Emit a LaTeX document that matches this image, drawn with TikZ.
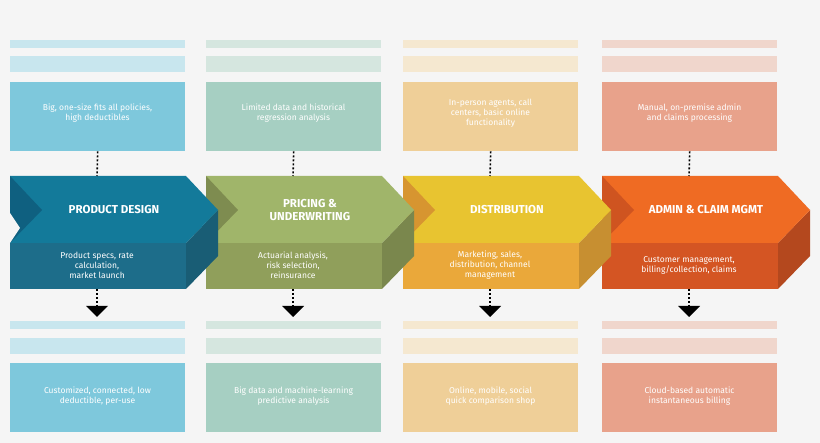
\documentclass[tikz,border=0pt]{standalone}
\usepackage{fontspec}
\setmainfont{Fira Sans}
\begin{document}
\begin{tikzpicture}[x=1pt,y=-1pt,
  txt/.style={text=white,align=center,font=\fontsize{8.5}{10}\selectfont,inner sep=0},
  ttl/.style={text=white,align=center,font=\fontsize{11.5}{13}\selectfont\bfseries,inner sep=0},
  dot/.style={black,line width=1.6pt,dash pattern=on 2pt off 2pt}]
\definecolor{bg}{HTML}{F5F5F5}
\fill[bg] (0,0) rectangle (820,443);
\useasboundingbox (0,0) rectangle (820,443);
% colours: bar, box, main, dark, lower
\definecolor{a1}{HTML}{C8E6EE}\definecolor{b1}{HTML}{7EC8DC}\definecolor{m1}{HTML}{137A9A}\definecolor{d1}{HTML}{0F6080}\definecolor{l1}{HTML}{1D6D8A}
\definecolor{a2}{HTML}{D5E6DF}\definecolor{b2}{HTML}{A6CFC2}\definecolor{m2}{HTML}{A0B56A}\definecolor{d2}{HTML}{7E8C50}\definecolor{l2}{HTML}{909F5B}
\definecolor{a3}{HTML}{F5E8D0}\definecolor{b3}{HTML}{EFCF98}\definecolor{m3}{HTML}{E8C430}\definecolor{d3}{HTML}{D79530}\definecolor{l3}{HTML}{EAA83A}
\definecolor{a4}{HTML}{F0D6CC}\definecolor{b4}{HTML}{E8A28B}\definecolor{m4}{HTML}{EF6B23}\definecolor{d4}{HTML}{CF5420}\definecolor{l4}{HTML}{D45523}
\foreach \i/\x/\tt/\ut/\mt/\lt in {
 4/602/{ADMIN \& CLAIM MGMT}/{Manual, on-premise admin\\and claims processing}/{Customer management,\\billing/collection, claims}/{Cloud-based automatic\\instantaneous billing},
 3/403/{DISTRIBUTION}/{In-person agents, call\\centers, basic online\\functionality}/{Marketing, sales,\\distribution, channel\\management}/{Online, mobile, social\\quick comparison shop},
 2/206/{PRICING \&\\UNDERWRITING}/{Limited data and historical\\regression analysis}/{Actuarial analysis,\\risk selection,\\reinsurance}/{Big data and machine-learning\\predictive analysis},
 1/10/{PRODUCT DESIGN}/{Big, one-size fits all policies,\\high deductibles}/{Product specs, rate\\calculation,\\market launch}/{Customized, connected, low\\deductible, per-use}}{
 \begin{scope}[xshift=\x]
  \fill[a\i] (0,40) rectangle (175,48);
  \fill[a\i] (0,56) rectangle (175,72);
  \node[fill=b\i,minimum width=175,minimum height=69,anchor=north west,inner sep=0] (top\i) at (0,82) {};
  \node[txt] at (87.5,113) {\ut};
  \fill[a\i] (0,321) rectangle (175,329);
  \fill[a\i] (0,338) rectangle (175,354);
  \node[fill=b\i,minimum width=175,minimum height=69,anchor=north west,inner sep=0] (bot\i) at (0,363) {};
  \node[txt] at (87.5,396) {\lt};
  % chevron
  \fill[l\i] (0,243) rectangle (176,289);
  \fill[l\i!85!black] (176,243) -- (208,210) -- (208,256) -- (176,289) -- cycle;
  \fill[m\i] (0,176) -- (176,176) -- (208,210) -- (176,243) -- (0,243) -- cycle;
  \fill[d\i] (0,176) -- (32,210) -- (0,243) -- cycle;
  \coordinate (ct\i) at (87,176);
  \coordinate (cb\i) at (87,289);
  \node[ttl] at (104,210) {\tt};
  \node[txt] at (87,265) {\mt};
  \draw[dot] (top\i.south) -- (ct\i);
  \draw[dot] (cb\i) -- (87,306);
  \coordinate (ar\i) at (87,317);
  \fill (76,306) -- (98,306) -- (ar\i) -- cycle;
 \end{scope}
}
\fill[bg] (10,213) -- (20,228) -- (10,243) -- cycle;
\end{tikzpicture}
\end{document}
